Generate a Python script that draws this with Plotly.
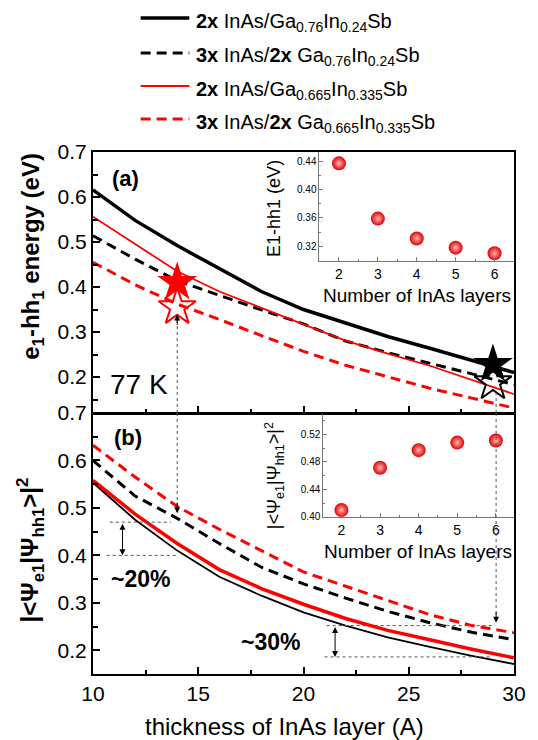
import plotly.graph_objects as go

# ---------------- data ----------------
thickness = [10, 12, 14, 16, 18, 20, 22, 24, 26, 28, 30]

# panel (a): e1-hh1 energy (eV)
e_2x_076 = [0.616, 0.548, 0.492, 0.44, 0.39, 0.35, 0.32, 0.29, 0.264, 0.238, 0.21]
e_3x_076 = [0.514, 0.462, 0.414, 0.381, 0.349, 0.318, 0.28, 0.254, 0.231, 0.207, 0.183]
e_2x_0665 = [0.556, 0.495, 0.435, 0.39, 0.353, 0.317, 0.281, 0.252, 0.225, 0.193, 0.162]
e_3x_0665 = [0.455, 0.405, 0.362, 0.328, 0.292, 0.257, 0.226, 0.20, 0.175, 0.153, 0.131]

# panel (b): overlap |<psi_e1|psi_hh1>|^2
o_2x_076 = [0.553, 0.475, 0.41, 0.355, 0.315, 0.28, 0.252, 0.227, 0.207, 0.188, 0.171]
o_3x_076 = [0.60, 0.525, 0.478, 0.425, 0.375, 0.34, 0.31, 0.282, 0.258, 0.238, 0.222]
o_2x_0665 = [0.558, 0.487, 0.425, 0.37, 0.33, 0.297, 0.267, 0.242, 0.222, 0.202, 0.184]
o_3x_0665 = [0.632, 0.565, 0.503, 0.455, 0.41, 0.365, 0.335, 0.305, 0.275, 0.252, 0.237]

# stars in panel (a)
star_red_x = [14]
star_red_filled_y = [0.41]
star_red_open_y = [0.355]
star_black_x = [29]
star_black_filled_y = [0.228]
star_black_open_y = [0.188]

# insets
layers = [2, 3, 4, 5, 6]
inset_energy = [0.437, 0.359, 0.331, 0.318, 0.310]
inset_overlap = [0.410, 0.4715, 0.497, 0.508, 0.511]

series_names = [
    "<b>2x</b> InAs/Ga<sub>0.76</sub>In<sub>0.24</sub>Sb",
    "<b>3x</b> InAs/<b>2x</b> Ga<sub>0.76</sub>In<sub>0.24</sub>Sb",
    "<b>2x</b> InAs/Ga<sub>0.665</sub>In<sub>0.335</sub>Sb",
    "<b>3x</b> InAs/<b>2x</b> Ga<sub>0.665</sub>In<sub>0.335</sub>Sb",
]

FONT = "Liberation Sans, Arial, sans-serif"
DASH = "10px,6px"
RED = "#ff0000"

fig = go.Figure()

# panel (a) curves (xaxis2 / yaxis2)
a_styles = [
    (e_2x_076, "black", 3.5, "solid"),
    (e_3x_076, "black", 3, DASH),
    (e_2x_0665, RED, 1.8, "solid"),
    (e_3x_0665, RED, 3, DASH),
]
for ys, c, w, d in a_styles:
    fig.add_trace(go.Scatter(x=thickness, y=ys, mode="lines", xaxis="x2", yaxis="y2",
                             line=dict(color=c, width=w, dash=d), showlegend=False))

b_styles = [
    (o_2x_076, "black", 1.8, "solid"),
    (o_3x_076, "black", 3, DASH),
    (o_2x_0665, RED, 3.5, "solid"),
    (o_3x_0665, RED, 3, DASH),
]
for ys, c, w, d in b_styles:
    fig.add_trace(go.Scatter(x=thickness, y=ys, mode="lines", xaxis="x", yaxis="y",
                             line=dict(color=c, width=w, dash=d), showlegend=False))

# stars
fig.add_trace(go.Scatter(x=star_red_x, y=star_red_filled_y, mode="markers", xaxis="x2", yaxis="y2",
                         marker=dict(symbol="star", size=30, color=RED, line=dict(width=0)), showlegend=False))
fig.add_trace(go.Scatter(x=star_red_x, y=star_red_open_y, mode="markers", xaxis="x2", yaxis="y2",
                         marker=dict(symbol="star-open", size=28, color=RED, line=dict(width=2, color=RED)), showlegend=False))
fig.add_trace(go.Scatter(x=star_black_x, y=star_black_filled_y, mode="markers", xaxis="x2", yaxis="y2",
                         marker=dict(symbol="star", size=30, color="black", line=dict(width=0)), showlegend=False))
fig.add_trace(go.Scatter(x=star_black_x, y=star_black_open_y, mode="markers", xaxis="x2", yaxis="y2",
                         marker=dict(symbol="star-open", size=28, color="black", line=dict(width=2, color="black")), showlegend=False))

# insets
sphere = dict(size=14, color="#e00000", gradient=dict(type="radial", color="#ffb4b4"), line=dict(width=0))
fig.add_trace(go.Scatter(x=layers, y=inset_energy, mode="markers", xaxis="x3", yaxis="y3",
                         marker=sphere, showlegend=False))
fig.add_trace(go.Scatter(x=layers, y=inset_overlap, mode="markers", xaxis="x4", yaxis="y4",
                         marker=sphere, showlegend=False))

tickfont = dict(family=FONT, size=21, color="black")
main_ax = dict(showline=True, linecolor="black", linewidth=2, ticks="inside",
               tickcolor="black", tickwidth=1.5, ticklen=7, showgrid=False, zeroline=False,
               tickfont=tickfont)

inset_ax = dict(showline=True, linecolor="#777", linewidth=1, mirror=False, ticks="inside",
                tickcolor="#777", ticklen=4, showgrid=False, zeroline=False)

fig.update_layout(
    width=530, height=732,
    margin=dict(l=85, r=21, t=144, b=66),
    plot_bgcolor="rgba(0,0,0,0)", paper_bgcolor="white",
    showlegend=False,
    xaxis=dict(**main_ax, mirror=False, domain=[0, 1], anchor="y", range=[10, 30], dtick=5, tick0=10,
               minor=dict(ticks="inside", dtick=2.5, ticklen=4, tickcolor="black")),
    yaxis=dict(**main_ax, mirror=True, domain=[0, 0.5], anchor="x", range=[0.15, 0.7], dtick=0.1, tick0=0.2,
               minor=dict(ticks="inside", dtick=0.05, ticklen=5, tickcolor="black")),
    xaxis2=dict(**main_ax, mirror=True, domain=[0, 1], anchor="y2", range=[10, 30], dtick=5, tick0=10,
                showticklabels=False,
                minor=dict(ticks="inside", dtick=2.5, ticklen=4, tickcolor="black")),
    yaxis2=dict(**main_ax, mirror=True, domain=[0.5, 1], anchor="x2", range=[0.12, 0.7], dtick=0.1, tick0=0.2,
                minor=dict(ticks="inside", dtick=0.05, ticklen=5, tickcolor="black")),
    xaxis3=dict(**inset_ax, domain=[0.538, 1], anchor="y3", range=[1.5, 6.5], dtick=1,
                tickfont=dict(family=FONT, size=14, color="black"),
                minor=dict(ticks="inside", dtick=0.5, ticklen=2, tickcolor="#777")),
    yaxis3=dict(**inset_ax, domain=[0.791, 1], anchor="x3", range=[0.299, 0.453], dtick=0.04, tick0=0.32,
                tickformat=".2f", tickfont=dict(family=FONT, size=10, color="black"),
                minor=dict(ticks="inside", dtick=0.02, ticklen=2, tickcolor="#777")),
    xaxis4=dict(**inset_ax, domain=[0.547, 1], anchor="y4", range=[1.53, 6.47], dtick=1,
                tickfont=dict(family=FONT, size=14, color="black"),
                minor=dict(ticks="inside", dtick=0.5, ticklen=2, tickcolor="#777")),
    yaxis4=dict(**inset_ax, domain=[0.301, 0.5], anchor="x4", range=[0.40, 0.551], dtick=0.04, tick0=0.40,
                tickformat=".2f", tickfont=dict(family=FONT, size=10, color="black"),
                minor=dict(ticks="inside", dtick=0.02, ticklen=2, tickcolor="#777")),
)

shapes = []
annos = []

def text(x, y, s, size, xref="paper", yref="paper", angle=0, xanchor="center", yanchor="middle", yshift=0):
    return dict(xref=xref, yref=yref, x=x, y=y, text=s, showarrow=False, textangle=angle,
                xanchor=xanchor, yanchor=yanchor, yshift=yshift,
                font=dict(family=FONT, size=size, color="black"))

# manual legend at the top
leg_line_x0, leg_line_x1, leg_text_x = 0.1132, 0.2288, 0.2406
leg_rows_y = [1.2567, 1.1897, 1.1264, 1.0632]
leg_styles = [("black", 3.5, "solid"), ("black", 3, DASH), (RED, 1.8, "solid"), (RED, 3, DASH)]
for name, yy, (c, w, d) in zip(series_names, leg_rows_y, leg_styles):
    shapes.append(dict(type="line", xref="paper", yref="paper", x0=leg_line_x0, x1=leg_line_x1,
                       y0=yy, y1=yy, line=dict(color=c, width=w, dash=d)))
    annos.append(text(leg_text_x, yy, name, 20, xanchor="left", yshift=-4))

# panel separator frame line
shapes.append(dict(type="line", xref="paper", yref="paper", x0=0, x1=1, y0=0.5, y1=0.5,
                   line=dict(color="black", width=2), layer="above"))

dot = dict(color="#555", width=1, dash="dot")
# vertical dotted guide lines
shapes += [
    dict(type="line", xref="x2", yref="y2", x0=14, x1=14, y0=0.12, y1=0.339, line=dot),
    dict(type="line", xref="x", yref="y", x0=14, x1=14, y0=0.7, y1=0.489, line=dot),
    dict(type="line", xref="x2", yref="y2", x0=29.15, x1=29.15, y0=0.12, y1=0.165, line=dot),
    dict(type="line", xref="x", yref="y", x0=29.15, x1=29.15, y0=0.7, y1=0.258, line=dot),
    # horizontal dotted lines
    dict(type="line", xref="x", yref="y", x0=10.8, x1=13.7, y0=0.47, y1=0.47, line=dot),
    dict(type="line", xref="x", yref="y", x0=10.65, x1=14.0, y0=0.40, y1=0.40, line=dot),
    dict(type="line", xref="x", yref="y", x0=21.1, x1=29.1, y0=0.252, y1=0.252, line=dot),
    dict(type="line", xref="x", yref="y", x0=21.0, x1=28.9, y0=0.186, y1=0.186, line=dot),
]

# arrow heads on dotted lines
annos += [
    dict(xref="x2", yref="y2", x=14, y=0.339, ax=0, ay=12, text="", showarrow=True,
         arrowhead=2, arrowsize=1.2, arrowwidth=1, arrowcolor="black"),
    dict(xref="x", yref="y", x=14, y=0.489, ax=0, ay=-12, text="", showarrow=True,
         arrowhead=2, arrowsize=1.2, arrowwidth=1, arrowcolor="black"),
    dict(xref="x", yref="y", x=29.15, y=0.258, ax=0, ay=-12, text="", showarrow=True,
         arrowhead=2, arrowsize=1.2, arrowwidth=1, arrowcolor="black"),
    # double-headed arrows
    dict(xref="x", yref="y", x=11.4, y=0.40, axref="x", ayref="y", ax=11.4, ay=0.47, text="",
         showarrow=True, arrowhead=2, startarrowhead=2, arrowside="end+start", arrowsize=1.2,
         arrowwidth=1, arrowcolor="black"),
    dict(xref="x", yref="y", x=21.5, y=0.186, axref="x", ayref="y", ax=21.5, ay=0.252, text="",
         showarrow=True, arrowhead=2, startarrowhead=2, arrowside="end+start", arrowsize=1.2,
         arrowwidth=1, arrowcolor="black"),
]

# text labels
annos += [
    text(11.56, 0.642, "<b>(a)</b>", 22, xref="x2", yref="y2"),
    text(11.65, 0.649, "<b>(b)</b>", 22, xref="x", yref="y"),
    text(12.2, 0.184, "77 K", 28, xref="x2", yref="y2"),
    text(12.26, 0.351, "<b>~20%</b>", 23, xref="x", yref="y"),
    text(18.44, 0.218, "<b>~30%</b>", 23, xref="x", yref="y"),
    # axis titles
    text(-0.1439, 0.80, "<b>e<sub>1</sub>-hh<sub>1</sub> energy (eV)</b>", 24, angle=-90),
    text(-0.1486, 0.2375, "<b>|<Ψ<sub>e1</sub>|Ψ<sub>hh1</sub>>|<sup>2</sup></b>", 24, angle=-90),
    text(0.455, -0.1015, "thickness of InAs layer (A)", 24),
    # inset titles
    text(0.43, 0.891, "E1-hh1 (eV)", 18, angle=-90),
    text(0.769, 0.726, "Number of InAs layers", 19),
    text(0.43, 0.379, "|<Ψ<sub>e1</sub>|Ψ<sub>hh1</sub>>|<sup>2</sup>", 18, angle=-90),
    text(0.771, 0.234, "Number of InAs layers", 19),
]

fig.update_layout(shapes=shapes, annotations=annos)
fig.write_html("out.html")
